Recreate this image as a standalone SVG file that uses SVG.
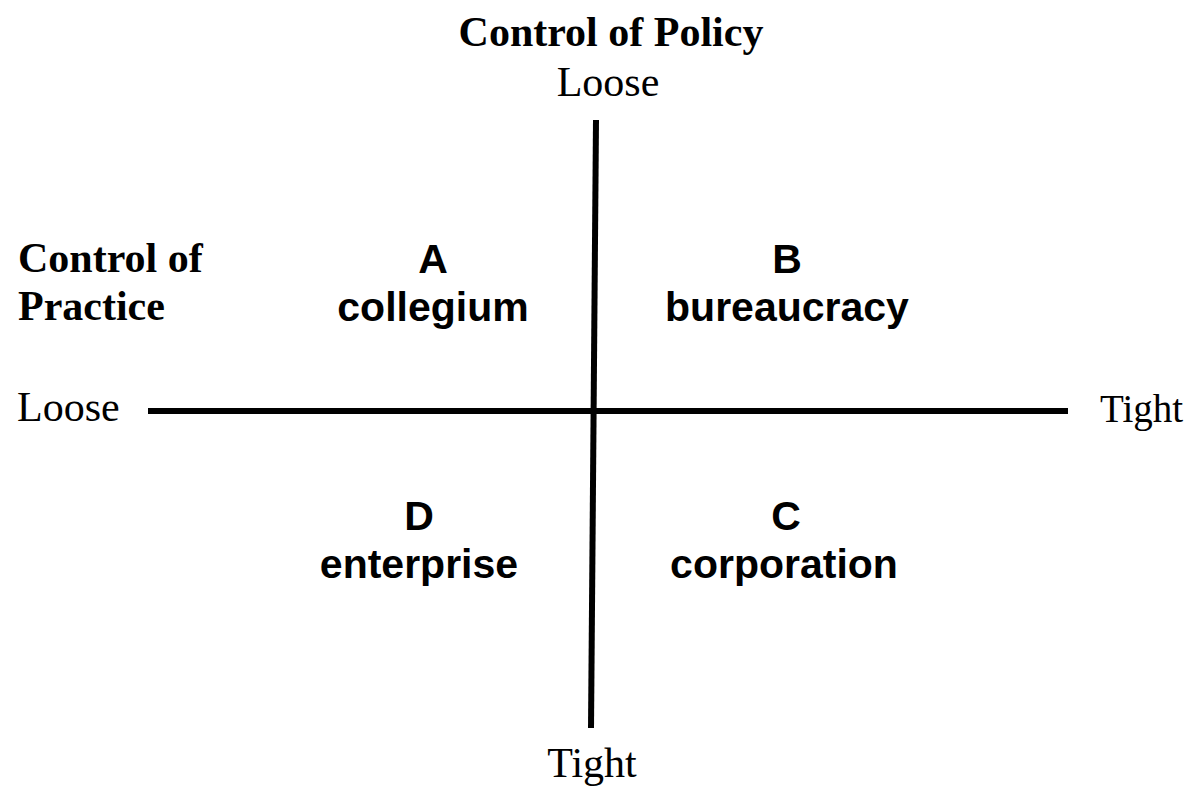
<svg xmlns="http://www.w3.org/2000/svg" width="1192" height="793" viewBox="0 0 1192 793">
<style>
.ser{font-family:"Liberation Serif","Times New Roman",serif;font-size:42px;fill:#000}
.serb{font-family:"Liberation Serif","Times New Roman",serif;font-size:42px;font-weight:bold;fill:#000}
.q{font-family:"Liberation Sans",Arial,sans-serif;font-size:41px;font-weight:bold;fill:#000;text-anchor:middle}
.axis{stroke:#000;stroke-width:6;fill:none}
</style>
<rect width="1192" height="793" fill="#fff"/>
<g id="connectors">
<line class="axis" x1="596" y1="120" x2="591" y2="728"/>
<line class="axis" x1="148" y1="411" x2="1068" y2="411"/>
</g>
<g id="title-policy">
<text class="serb" x="611" y="46" text-anchor="middle">Control of Policy</text>
<text class="ser" x="608" y="96" text-anchor="middle">Loose</text>
</g>
<g id="title-practice">
<text class="serb" x="18" y="272">Control of</text>
<text class="serb" x="18" y="320">Practice</text>
</g>
<g id="label-loose-left"><text class="ser" x="17" y="421">Loose</text></g>
<g id="label-tight-right"><text class="ser" x="1100" y="422" style="font-size:39px">Tight</text></g>
<g id="label-tight-bottom"><text class="ser" x="592" y="777" text-anchor="middle">Tight</text></g>
<g id="quadrant-A">
<text class="q" x="433" y="273">A</text>
<text class="q" x="433" y="321">collegium</text>
</g>
<g id="quadrant-B">
<text class="q" x="787" y="273">B</text>
<text class="q" x="787" y="321">bureaucracy</text>
</g>
<g id="quadrant-D">
<text class="q" x="419" y="530">D</text>
<text class="q" x="419" y="578">enterprise</text>
</g>
<g id="quadrant-C">
<text class="q" x="786" y="530">C</text>
<text class="q" x="784" y="578">corporation</text>
</g>
</svg>
